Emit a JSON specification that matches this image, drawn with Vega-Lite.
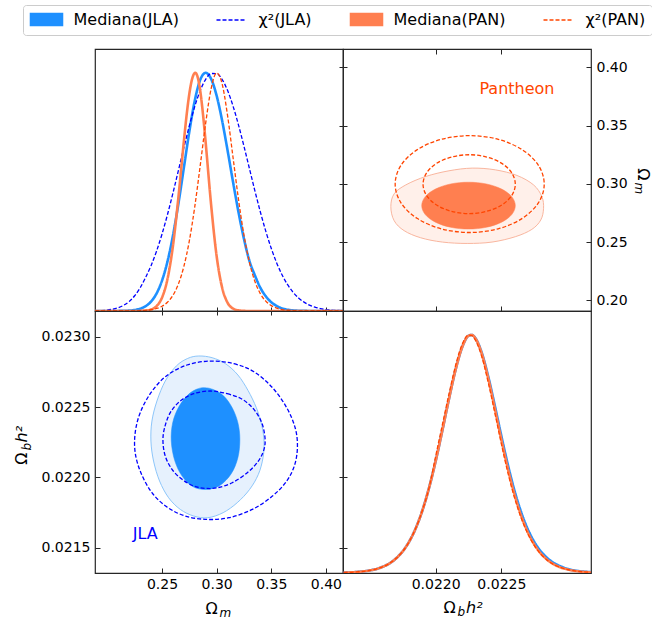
{
"$schema": "https://vega.github.io/schema/vega-lite/v6.json",
"padding": {"left": 13, "top": 4, "right": 0, "bottom": 0},
"autosize": {"type": "pad"},
"background": "white",
"columns": 2,
"spacing": 0,
"bounds": "flush",
"datasets": {
"om": [
{"s":"Mediana(JLA)","x":0.1887,"p":0},{"s":"Mediana(JLA)","x":0.2,"p":0},{"s":"Mediana(JLA)","x":0.205,"p":0.0001},{"s":"Mediana(JLA)","x":0.21,"p":0.0003},{"s":"Mediana(JLA)","x":0.215,"p":0.0007},{"s":"Mediana(JLA)","x":0.22,"p":0.0018},{"s":"Mediana(JLA)","x":0.225,"p":0.0042},{"s":"Mediana(JLA)","x":0.23,"p":0.0095},{"s":"Mediana(JLA)","x":0.235,"p":0.0201},{"s":"Mediana(JLA)","x":0.24,"p":0.0396},{"s":"Mediana(JLA)","x":0.245,"p":0.0733},{"s":"Mediana(JLA)","x":0.25,"p":0.1272},{"s":"Mediana(JLA)","x":0.255,"p":0.2068},{"s":"Mediana(JLA)","x":0.26,"p":0.3148},{"s":"Mediana(JLA)","x":0.265,"p":0.4493},{"s":"Mediana(JLA)","x":0.27,"p":0.6005},{"s":"Mediana(JLA)","x":0.275,"p":0.752},{"s":"Mediana(JLA)","x":0.28,"p":0.8825},{"s":"Mediana(JLA)","x":0.285,"p":0.9704},{"s":"Mediana(JLA)","x":0.29,"p":1.0},{"s":"Mediana(JLA)","x":0.295,"p":0.9743},{"s":"Mediana(JLA)","x":0.3,"p":0.9048},{"s":"Mediana(JLA)","x":0.305,"p":0.8007},{"s":"Mediana(JLA)","x":0.31,"p":0.6754},{"s":"Mediana(JLA)","x":0.315,"p":0.543},{"s":"Mediana(JLA)","x":0.32,"p":0.416},{"s":"Mediana(JLA)","x":0.325,"p":0.3036},{"s":"Mediana(JLA)","x":0.33,"p":0.2114},{"s":"Mediana(JLA)","x":0.335,"p":0.15},{"s":"Mediana(JLA)","x":0.34,"p":0.098},{"s":"Mediana(JLA)","x":0.345,"p":0.062},{"s":"Mediana(JLA)","x":0.35,"p":0.037},{"s":"Mediana(JLA)","x":0.355,"p":0.021},{"s":"Mediana(JLA)","x":0.36,"p":0.011},{"s":"Mediana(JLA)","x":0.365,"p":0.0055},{"s":"Mediana(JLA)","x":0.37,"p":0.0026},{"s":"Mediana(JLA)","x":0.375,"p":0.0012},{"s":"Mediana(JLA)","x":0.38,"p":0.0005},{"s":"Mediana(JLA)","x":0.385,"p":0.0002},{"s":"Mediana(JLA)","x":0.39,"p":0},{"s":"Mediana(JLA)","x":0.4157,"p":0},
{"s":"χ²(JLA)","x":0.1887,"p":0.0004},{"s":"χ²(JLA)","x":0.19,"p":0.001},{"s":"χ²(JLA)","x":0.195,"p":0.002},{"s":"χ²(JLA)","x":0.2,"p":0.004},{"s":"χ²(JLA)","x":0.205,"p":0.008},{"s":"χ²(JLA)","x":0.21,"p":0.014},{"s":"χ²(JLA)","x":0.215,"p":0.024},{"s":"χ²(JLA)","x":0.22,"p":0.04},{"s":"χ²(JLA)","x":0.225,"p":0.064},{"s":"χ²(JLA)","x":0.23,"p":0.097},{"s":"χ²(JLA)","x":0.235,"p":0.1406},{"s":"χ²(JLA)","x":0.24,"p":0.1901},{"s":"χ²(JLA)","x":0.245,"p":0.2508},{"s":"χ²(JLA)","x":0.25,"p":0.3223},{"s":"χ²(JLA)","x":0.255,"p":0.4042},{"s":"χ²(JLA)","x":0.26,"p":0.4943},{"s":"χ²(JLA)","x":0.265,"p":0.5892},{"s":"χ²(JLA)","x":0.27,"p":0.6849},{"s":"χ²(JLA)","x":0.275,"p":0.7766},{"s":"χ²(JLA)","x":0.28,"p":0.8586},{"s":"χ²(JLA)","x":0.285,"p":0.9254},{"s":"χ²(JLA)","x":0.29,"p":0.9728},{"s":"χ²(JLA)","x":0.295,"p":0.9971},{"s":"χ²(JLA)","x":0.3,"p":0.9967},{"s":"χ²(JLA)","x":0.305,"p":0.9725},{"s":"χ²(JLA)","x":0.31,"p":0.9263},{"s":"χ²(JLA)","x":0.315,"p":0.8612},{"s":"χ²(JLA)","x":0.32,"p":0.7817},{"s":"χ²(JLA)","x":0.325,"p":0.6926},{"s":"χ²(JLA)","x":0.33,"p":0.599},{"s":"χ²(JLA)","x":0.335,"p":0.5057},{"s":"χ²(JLA)","x":0.34,"p":0.4168},{"s":"χ²(JLA)","x":0.345,"p":0.3353},{"s":"χ²(JLA)","x":0.35,"p":0.2634},{"s":"χ²(JLA)","x":0.355,"p":0.2019},{"s":"χ²(JLA)","x":0.36,"p":0.151},{"s":"χ²(JLA)","x":0.365,"p":0.1104},{"s":"χ²(JLA)","x":0.37,"p":0.0787},{"s":"χ²(JLA)","x":0.375,"p":0.0548},{"s":"χ²(JLA)","x":0.38,"p":0.0373},{"s":"χ²(JLA)","x":0.385,"p":0.0247},{"s":"χ²(JLA)","x":0.39,"p":0.016},{"s":"χ²(JLA)","x":0.395,"p":0.0101},{"s":"χ²(JLA)","x":0.4,"p":0.0062},{"s":"χ²(JLA)","x":0.405,"p":0.0038},{"s":"χ²(JLA)","x":0.41,"p":0.0022},{"s":"χ²(JLA)","x":0.4157,"p":0.0012},
{"s":"Mediana(PAN)","x":0.1887,"p":0},{"s":"Mediana(PAN)","x":0.22,"p":0},{"s":"Mediana(PAN)","x":0.225,"p":0.0001},{"s":"Mediana(PAN)","x":0.23,"p":0.0004},{"s":"Mediana(PAN)","x":0.235,"p":0.0016},{"s":"Mediana(PAN)","x":0.24,"p":0.0062},{"s":"Mediana(PAN)","x":0.245,"p":0.0201},{"s":"Mediana(PAN)","x":0.25,"p":0.0559},{"s":"Mediana(PAN)","x":0.255,"p":0.1332},{"s":"Mediana(PAN)","x":0.26,"p":0.2718},{"s":"Mediana(PAN)","x":0.265,"p":0.4749},{"s":"Mediana(PAN)","x":0.27,"p":0.7104},{"s":"Mediana(PAN)","x":0.2725,"p":0.82},{"s":"Mediana(PAN)","x":0.275,"p":0.9105},{"s":"Mediana(PAN)","x":0.2775,"p":0.9725},{"s":"Mediana(PAN)","x":0.2805,"p":1.0},{"s":"Mediana(PAN)","x":0.2825,"p":0.9847},{"s":"Mediana(PAN)","x":0.285,"p":0.925},{"s":"Mediana(PAN)","x":0.2875,"p":0.828},{"s":"Mediana(PAN)","x":0.29,"p":0.7068},{"s":"Mediana(PAN)","x":0.295,"p":0.4453},{"s":"Mediana(PAN)","x":0.3,"p":0.2315},{"s":"Mediana(PAN)","x":0.305,"p":0.0994},{"s":"Mediana(PAN)","x":0.31,"p":0.0351},{"s":"Mediana(PAN)","x":0.315,"p":0.0103},{"s":"Mediana(PAN)","x":0.32,"p":0.0025},{"s":"Mediana(PAN)","x":0.325,"p":0.0005},{"s":"Mediana(PAN)","x":0.33,"p":0.0001},{"s":"Mediana(PAN)","x":0.335,"p":0},{"s":"Mediana(PAN)","x":0.4157,"p":0},
{"s":"χ²(PAN)","x":0.1887,"p":0},{"s":"χ²(PAN)","x":0.21,"p":0},{"s":"χ²(PAN)","x":0.215,"p":0.0001},{"s":"χ²(PAN)","x":0.22,"p":0.0003},{"s":"χ²(PAN)","x":0.225,"p":0.0007},{"s":"χ²(PAN)","x":0.23,"p":0.0014},{"s":"χ²(PAN)","x":0.235,"p":0.0028},{"s":"χ²(PAN)","x":0.24,"p":0.0055},{"s":"χ²(PAN)","x":0.245,"p":0.0105},{"s":"χ²(PAN)","x":0.25,"p":0.0199},{"s":"χ²(PAN)","x":0.255,"p":0.0366},{"s":"χ²(PAN)","x":0.26,"p":0.0654},{"s":"χ²(PAN)","x":0.265,"p":0.1127},{"s":"χ²(PAN)","x":0.27,"p":0.1864},{"s":"χ²(PAN)","x":0.275,"p":0.2935},{"s":"χ²(PAN)","x":0.28,"p":0.4374},{"s":"χ²(PAN)","x":0.285,"p":0.61},{"s":"χ²(PAN)","x":0.29,"p":0.7887},{"s":"χ²(PAN)","x":0.295,"p":0.934},{"s":"χ²(PAN)","x":0.3,"p":0.9994},{"s":"χ²(PAN)","x":0.305,"p":0.955},{"s":"χ²(PAN)","x":0.31,"p":0.822},{"s":"χ²(PAN)","x":0.315,"p":0.6464},{"s":"χ²(PAN)","x":0.32,"p":0.47},{"s":"χ²(PAN)","x":0.325,"p":0.3195},{"s":"χ²(PAN)","x":0.33,"p":0.205},{"s":"χ²(PAN)","x":0.335,"p":0.125},{"s":"χ²(PAN)","x":0.34,"p":0.0732},{"s":"χ²(PAN)","x":0.345,"p":0.0412},{"s":"χ²(PAN)","x":0.35,"p":0.0225},{"s":"χ²(PAN)","x":0.355,"p":0.012},{"s":"χ²(PAN)","x":0.36,"p":0.0062},{"s":"χ²(PAN)","x":0.365,"p":0.0032},{"s":"χ²(PAN)","x":0.37,"p":0.0016},{"s":"χ²(PAN)","x":0.375,"p":0.0008},{"s":"χ²(PAN)","x":0.38,"p":0.0004},{"s":"χ²(PAN)","x":0.385,"p":0.0002},{"s":"χ²(PAN)","x":0.39,"p":0},{"s":"χ²(PAN)","x":0.4157,"p":0}
],
"ob": [
{"s":"Mediana(JLA)","x":0.0213,"p":0.0017},{"s":"Mediana(JLA)","x":0.02135,"p":0.0027},{"s":"Mediana(JLA)","x":0.0214,"p":0.0043},{"s":"Mediana(JLA)","x":0.02145,"p":0.0069},{"s":"Mediana(JLA)","x":0.0215,"p":0.011},{"s":"Mediana(JLA)","x":0.02155,"p":0.0172},{"s":"Mediana(JLA)","x":0.0216,"p":0.0267},{"s":"Mediana(JLA)","x":0.02165,"p":0.0408},{"s":"Mediana(JLA)","x":0.0217,"p":0.0616},{"s":"Mediana(JLA)","x":0.02175,"p":0.0915},{"s":"Mediana(JLA)","x":0.0218,"p":0.1333},{"s":"Mediana(JLA)","x":0.02185,"p":0.19},{"s":"Mediana(JLA)","x":0.0219,"p":0.2644},{"s":"Mediana(JLA)","x":0.02195,"p":0.358},{"s":"Mediana(JLA)","x":0.022,"p":0.47},{"s":"Mediana(JLA)","x":0.02205,"p":0.5962},{"s":"Mediana(JLA)","x":0.0221,"p":0.7275},{"s":"Mediana(JLA)","x":0.02215,"p":0.8498},{"s":"Mediana(JLA)","x":0.0222,"p":0.9455},{"s":"Mediana(JLA)","x":0.02225,"p":0.9959},{"s":"Mediana(JLA)","x":0.022275,"p":0.9995},{"s":"Mediana(JLA)","x":0.0223,"p":0.988},{"s":"Mediana(JLA)","x":0.02235,"p":0.926},{"s":"Mediana(JLA)","x":0.0224,"p":0.825},{"s":"Mediana(JLA)","x":0.02245,"p":0.703},{"s":"Mediana(JLA)","x":0.0225,"p":0.575},{"s":"Mediana(JLA)","x":0.02255,"p":0.453},{"s":"Mediana(JLA)","x":0.0226,"p":0.345},{"s":"Mediana(JLA)","x":0.02265,"p":0.256},{"s":"Mediana(JLA)","x":0.0227,"p":0.185},{"s":"Mediana(JLA)","x":0.02275,"p":0.131},{"s":"Mediana(JLA)","x":0.0228,"p":0.091},{"s":"Mediana(JLA)","x":0.02285,"p":0.062},{"s":"Mediana(JLA)","x":0.0229,"p":0.042},{"s":"Mediana(JLA)","x":0.02295,"p":0.028},{"s":"Mediana(JLA)","x":0.023,"p":0.018},{"s":"Mediana(JLA)","x":0.02305,"p":0.0115},{"s":"Mediana(JLA)","x":0.0231,"p":0.0074},{"s":"Mediana(JLA)","x":0.02315,"p":0.0047},{"s":"Mediana(JLA)","x":0.02318,"p":0.0037},
{"s":"χ²(JLA)","x":0.0213,"p":0.0017},{"s":"χ²(JLA)","x":0.02135,"p":0.0027},{"s":"χ²(JLA)","x":0.0214,"p":0.0043},{"s":"χ²(JLA)","x":0.02145,"p":0.0069},{"s":"χ²(JLA)","x":0.0215,"p":0.011},{"s":"χ²(JLA)","x":0.02155,"p":0.0172},{"s":"χ²(JLA)","x":0.0216,"p":0.0267},{"s":"χ²(JLA)","x":0.02165,"p":0.0408},{"s":"χ²(JLA)","x":0.0217,"p":0.0616},{"s":"χ²(JLA)","x":0.02175,"p":0.0915},{"s":"χ²(JLA)","x":0.0218,"p":0.1333},{"s":"χ²(JLA)","x":0.02185,"p":0.19},{"s":"χ²(JLA)","x":0.0219,"p":0.2644},{"s":"χ²(JLA)","x":0.02195,"p":0.358},{"s":"χ²(JLA)","x":0.022,"p":0.47},{"s":"χ²(JLA)","x":0.02205,"p":0.5962},{"s":"χ²(JLA)","x":0.0221,"p":0.7275},{"s":"χ²(JLA)","x":0.02215,"p":0.8498},{"s":"χ²(JLA)","x":0.0222,"p":0.9455},{"s":"χ²(JLA)","x":0.02225,"p":0.9959},{"s":"χ²(JLA)","x":0.022275,"p":0.9995},{"s":"χ²(JLA)","x":0.0223,"p":0.9873},{"s":"χ²(JLA)","x":0.02235,"p":0.9225},{"s":"χ²(JLA)","x":0.0224,"p":0.8175},{"s":"χ²(JLA)","x":0.02245,"p":0.691},{"s":"χ²(JLA)","x":0.0225,"p":0.5599},{"s":"χ²(JLA)","x":0.02255,"p":0.4369},{"s":"χ²(JLA)","x":0.0226,"p":0.3298},{"s":"χ²(JLA)","x":0.02265,"p":0.2416},{"s":"χ²(JLA)","x":0.0227,"p":0.1724},{"s":"χ²(JLA)","x":0.02275,"p":0.1202},{"s":"χ²(JLA)","x":0.0228,"p":0.0821},{"s":"χ²(JLA)","x":0.02285,"p":0.055},{"s":"χ²(JLA)","x":0.0229,"p":0.0363},{"s":"χ²(JLA)","x":0.02295,"p":0.0236},{"s":"χ²(JLA)","x":0.023,"p":0.0152},{"s":"χ²(JLA)","x":0.02305,"p":0.0096},{"s":"χ²(JLA)","x":0.0231,"p":0.0061},{"s":"χ²(JLA)","x":0.02315,"p":0.0038},{"s":"χ²(JLA)","x":0.02318,"p":0.003},
{"s":"Mediana(PAN)","x":0.0213,"p":0.0017},{"s":"Mediana(PAN)","x":0.02135,"p":0.0027},{"s":"Mediana(PAN)","x":0.0214,"p":0.0043},{"s":"Mediana(PAN)","x":0.02145,"p":0.0069},{"s":"Mediana(PAN)","x":0.0215,"p":0.011},{"s":"Mediana(PAN)","x":0.02155,"p":0.0172},{"s":"Mediana(PAN)","x":0.0216,"p":0.0267},{"s":"Mediana(PAN)","x":0.02165,"p":0.0408},{"s":"Mediana(PAN)","x":0.0217,"p":0.0616},{"s":"Mediana(PAN)","x":0.02175,"p":0.0915},{"s":"Mediana(PAN)","x":0.0218,"p":0.1333},{"s":"Mediana(PAN)","x":0.02185,"p":0.19},{"s":"Mediana(PAN)","x":0.0219,"p":0.2644},{"s":"Mediana(PAN)","x":0.02195,"p":0.358},{"s":"Mediana(PAN)","x":0.022,"p":0.47},{"s":"Mediana(PAN)","x":0.02205,"p":0.5962},{"s":"Mediana(PAN)","x":0.0221,"p":0.7275},{"s":"Mediana(PAN)","x":0.02215,"p":0.8498},{"s":"Mediana(PAN)","x":0.0222,"p":0.9455},{"s":"Mediana(PAN)","x":0.02225,"p":0.9959},{"s":"Mediana(PAN)","x":0.022275,"p":0.9995},{"s":"Mediana(PAN)","x":0.0223,"p":0.9873},{"s":"Mediana(PAN)","x":0.02235,"p":0.9225},{"s":"Mediana(PAN)","x":0.0224,"p":0.8175},{"s":"Mediana(PAN)","x":0.02245,"p":0.691},{"s":"Mediana(PAN)","x":0.0225,"p":0.5599},{"s":"Mediana(PAN)","x":0.02255,"p":0.4369},{"s":"Mediana(PAN)","x":0.0226,"p":0.3298},{"s":"Mediana(PAN)","x":0.02265,"p":0.2416},{"s":"Mediana(PAN)","x":0.0227,"p":0.1724},{"s":"Mediana(PAN)","x":0.02275,"p":0.1202},{"s":"Mediana(PAN)","x":0.0228,"p":0.0821},{"s":"Mediana(PAN)","x":0.02285,"p":0.055},{"s":"Mediana(PAN)","x":0.0229,"p":0.0363},{"s":"Mediana(PAN)","x":0.02295,"p":0.0236},{"s":"Mediana(PAN)","x":0.023,"p":0.0152},{"s":"Mediana(PAN)","x":0.02305,"p":0.0096},{"s":"Mediana(PAN)","x":0.0231,"p":0.0061},{"s":"Mediana(PAN)","x":0.02315,"p":0.0038},{"s":"Mediana(PAN)","x":0.02318,"p":0.003},
{"s":"χ²(PAN)","x":0.0213,"p":0.0017},{"s":"χ²(PAN)","x":0.02135,"p":0.0027},{"s":"χ²(PAN)","x":0.0214,"p":0.0043},{"s":"χ²(PAN)","x":0.02145,"p":0.0069},{"s":"χ²(PAN)","x":0.0215,"p":0.011},{"s":"χ²(PAN)","x":0.02155,"p":0.0172},{"s":"χ²(PAN)","x":0.0216,"p":0.0267},{"s":"χ²(PAN)","x":0.02165,"p":0.0408},{"s":"χ²(PAN)","x":0.0217,"p":0.0616},{"s":"χ²(PAN)","x":0.02175,"p":0.0915},{"s":"χ²(PAN)","x":0.0218,"p":0.1333},{"s":"χ²(PAN)","x":0.02185,"p":0.19},{"s":"χ²(PAN)","x":0.0219,"p":0.2644},{"s":"χ²(PAN)","x":0.02195,"p":0.358},{"s":"χ²(PAN)","x":0.022,"p":0.49},{"s":"χ²(PAN)","x":0.02205,"p":0.62},{"s":"χ²(PAN)","x":0.0221,"p":0.748},{"s":"χ²(PAN)","x":0.02215,"p":0.868},{"s":"χ²(PAN)","x":0.0222,"p":0.958},{"s":"χ²(PAN)","x":0.02225,"p":0.999},{"s":"χ²(PAN)","x":0.022275,"p":0.997},{"s":"χ²(PAN)","x":0.0223,"p":0.98},{"s":"χ²(PAN)","x":0.02235,"p":0.91},{"s":"χ²(PAN)","x":0.0224,"p":0.8},{"s":"χ²(PAN)","x":0.02245,"p":0.673},{"s":"χ²(PAN)","x":0.0225,"p":0.542},{"s":"χ²(PAN)","x":0.02255,"p":0.42},{"s":"χ²(PAN)","x":0.0226,"p":0.316},{"s":"χ²(PAN)","x":0.02265,"p":0.232},{"s":"χ²(PAN)","x":0.0227,"p":0.166},{"s":"χ²(PAN)","x":0.02275,"p":0.116},{"s":"χ²(PAN)","x":0.0228,"p":0.079},{"s":"χ²(PAN)","x":0.02285,"p":0.053},{"s":"χ²(PAN)","x":0.0229,"p":0.035},{"s":"χ²(PAN)","x":0.02295,"p":0.0236},{"s":"χ²(PAN)","x":0.023,"p":0.0152},{"s":"χ²(PAN)","x":0.02305,"p":0.0096},{"s":"χ²(PAN)","x":0.0231,"p":0.0061},{"s":"χ²(PAN)","x":0.02315,"p":0.0038},{"s":"χ²(PAN)","x":0.02318,"p":0.003}
],
"jla": [
{"c":"o","i":0,"x":0.2837,"y":0.022863},{"c":"o","i":1,"x":0.2959,"y":0.022851},{"c":"o","i":2,"x":0.3082,"y":0.022808},{"c":"o","i":3,"x":0.3195,"y":0.022728},{"c":"o","i":4,"x":0.3287,"y":0.022619},{"c":"o","i":5,"x":0.3364,"y":0.022495},{"c":"o","i":6,"x":0.3413,"y":0.022372},{"c":"o","i":7,"x":0.3434,"y":0.022258},{"c":"o","i":8,"x":0.3425,"y":0.02214},{"c":"o","i":9,"x":0.3382,"y":0.022021},{"c":"o","i":10,"x":0.3302,"y":0.021914},{"c":"o","i":11,"x":0.3189,"y":0.02182},{"c":"o","i":12,"x":0.306,"y":0.021749},{"c":"o","i":13,"x":0.2919,"y":0.021713},{"c":"o","i":14,"x":0.2791,"y":0.021725},{"c":"o","i":15,"x":0.2668,"y":0.021772},{"c":"o","i":16,"x":0.2561,"y":0.021855},{"c":"o","i":17,"x":0.2478,"y":0.021974},{"c":"o","i":18,"x":0.2423,"y":0.022116},{"c":"o","i":19,"x":0.2399,"y":0.022258},{"c":"o","i":20,"x":0.2408,"y":0.0224},{"c":"o","i":21,"x":0.2454,"y":0.022543},{"c":"o","i":22,"x":0.253,"y":0.022685},{"c":"o","i":23,"x":0.2631,"y":0.022792},{"c":"o","i":24,"x":0.2736,"y":0.022846},
{"c":"i","i":0,"x":0.2889,"y":0.022638},{"c":"i","i":1,"x":0.2975,"y":0.022623},{"c":"i","i":2,"x":0.3066,"y":0.022578},{"c":"i","i":3,"x":0.3143,"y":0.022495},{"c":"i","i":4,"x":0.3195,"y":0.022389},{"c":"i","i":5,"x":0.3213,"y":0.02227},{"c":"i","i":6,"x":0.3195,"y":0.02214},{"c":"i","i":7,"x":0.3134,"y":0.022026},{"c":"i","i":8,"x":0.303,"y":0.021943},{"c":"i","i":9,"x":0.2907,"y":0.021914},{"c":"i","i":10,"x":0.2785,"y":0.021933},{"c":"i","i":11,"x":0.2684,"y":0.022009},{"c":"i","i":12,"x":0.2616,"y":0.022121},{"c":"i","i":13,"x":0.2585,"y":0.022258},{"c":"i","i":14,"x":0.2598,"y":0.022389},{"c":"i","i":15,"x":0.2653,"y":0.0225},{"c":"i","i":16,"x":0.2736,"y":0.022585},{"c":"i","i":17,"x":0.2815,"y":0.022626},
{"c":"di","i":0,"x":0.2944,"y":0.022614},{"c":"di","i":1,"x":0.3097,"y":0.022595},{"c":"di","i":2,"x":0.3235,"y":0.022555},{"c":"di","i":3,"x":0.3342,"y":0.022483},{"c":"di","i":4,"x":0.3413,"y":0.022389},{"c":"di","i":5,"x":0.3443,"y":0.022282},{"c":"di","i":6,"x":0.3434,"y":0.022199},{"c":"di","i":7,"x":0.3382,"y":0.022116},{"c":"di","i":8,"x":0.3281,"y":0.022033},{"c":"di","i":9,"x":0.3143,"y":0.021962},{"c":"di","i":10,"x":0.3005,"y":0.021926},{"c":"di","i":11,"x":0.2898,"y":0.021922},{"c":"di","i":12,"x":0.2791,"y":0.021938},{"c":"di","i":13,"x":0.2684,"y":0.021986},{"c":"di","i":14,"x":0.2592,"y":0.022057},{"c":"di","i":15,"x":0.253,"y":0.022152},{"c":"di","i":16,"x":0.2509,"y":0.022258},{"c":"di","i":17,"x":0.2524,"y":0.022353},{"c":"di","i":18,"x":0.2576,"y":0.02246},{"c":"di","i":19,"x":0.2668,"y":0.022543},{"c":"di","i":20,"x":0.2791,"y":0.022595},
{"c":"do","i":0,"x":0.2944,"y":0.022827},{"c":"do","i":1,"x":0.3158,"y":0.022808},{"c":"do","i":2,"x":0.3342,"y":0.022751},{"c":"do","i":3,"x":0.3511,"y":0.022638},{"c":"do","i":4,"x":0.3642,"y":0.022495},{"c":"do","i":5,"x":0.3719,"y":0.022353},{"c":"do","i":6,"x":0.374,"y":0.022223},{"c":"do","i":7,"x":0.3716,"y":0.022092},{"c":"do","i":8,"x":0.3642,"y":0.021974},{"c":"do","i":9,"x":0.3511,"y":0.021867},{"c":"do","i":10,"x":0.3327,"y":0.021772},{"c":"do","i":11,"x":0.3112,"y":0.021713},{"c":"do","i":12,"x":0.2913,"y":0.021701},{"c":"do","i":13,"x":0.2714,"y":0.021725},{"c":"do","i":14,"x":0.2546,"y":0.021789},{"c":"do","i":15,"x":0.2408,"y":0.021891},{"c":"do","i":16,"x":0.2307,"y":0.022033},{"c":"do","i":17,"x":0.2255,"y":0.022175},{"c":"do","i":18,"x":0.2255,"y":0.022318},{"c":"do","i":19,"x":0.2301,"y":0.02246},{"c":"do","i":20,"x":0.2399,"y":0.022602},{"c":"do","i":21,"x":0.254,"y":0.022721},{"c":"do","i":22,"x":0.2729,"y":0.022799}
],
"pan": [
{"c":"o","i":0,"x":0.021659,"y":0.2804},{"c":"o","i":1,"x":0.021684,"y":0.2914},{"c":"o","i":2,"x":0.021773,"y":0.2991},{"c":"o","i":3,"x":0.021924,"y":0.3063},{"c":"o","i":4,"x":0.022101,"y":0.3112},{"c":"o","i":5,"x":0.022278,"y":0.3135},{"c":"o","i":6,"x":0.022455,"y":0.312},{"c":"o","i":7,"x":0.022619,"y":0.3072},{"c":"o","i":8,"x":0.022745,"y":0.2991},{"c":"o","i":9,"x":0.022808,"y":0.2891},{"c":"o","i":10,"x":0.022821,"y":0.279},{"c":"o","i":11,"x":0.0228,"y":0.269},{"c":"o","i":12,"x":0.022732,"y":0.2609},{"c":"o","i":13,"x":0.022606,"y":0.2546},{"c":"o","i":14,"x":0.022429,"y":0.25},{"c":"o","i":15,"x":0.02224,"y":0.2488},{"c":"o","i":16,"x":0.022051,"y":0.25},{"c":"o","i":17,"x":0.021886,"y":0.2537},{"c":"o","i":18,"x":0.02176,"y":0.2598},{"c":"o","i":19,"x":0.021684,"y":0.2684},
{"c":"i","i":0,"x":0.022606,"y":0.2813},{"c":"i","i":1,"x":0.022579,"y":0.289},{"c":"i","i":2,"x":0.022502,"y":0.2955},{"c":"i","i":3,"x":0.022386,"y":0.2999},{"c":"i","i":4,"x":0.02225,"y":0.3014},{"c":"i","i":5,"x":0.022114,"y":0.2999},{"c":"i","i":6,"x":0.021998,"y":0.2955},{"c":"i","i":7,"x":0.021921,"y":0.289},{"c":"i","i":8,"x":0.021894,"y":0.2813},{"c":"i","i":9,"x":0.021921,"y":0.2736},{"c":"i","i":10,"x":0.021998,"y":0.2671},{"c":"i","i":11,"x":0.022114,"y":0.2627},{"c":"i","i":12,"x":0.02225,"y":0.2612},{"c":"i","i":13,"x":0.022386,"y":0.2627},{"c":"i","i":14,"x":0.022502,"y":0.2671},{"c":"i","i":15,"x":0.022579,"y":0.2736},
{"c":"di","i":0,"x":0.022606,"y":0.2997},{"c":"di","i":1,"x":0.022579,"y":0.3094},{"c":"di","i":2,"x":0.022503,"y":0.3176},{"c":"di","i":3,"x":0.022389,"y":0.323},{"c":"di","i":4,"x":0.022255,"y":0.325},{"c":"di","i":5,"x":0.022121,"y":0.323},{"c":"di","i":6,"x":0.022007,"y":0.3176},{"c":"di","i":7,"x":0.021931,"y":0.3094},{"c":"di","i":8,"x":0.021904,"y":0.2997},{"c":"di","i":9,"x":0.021931,"y":0.29},{"c":"di","i":10,"x":0.022007,"y":0.2818},{"c":"di","i":11,"x":0.022121,"y":0.2764},{"c":"di","i":12,"x":0.022255,"y":0.2744},{"c":"di","i":13,"x":0.022389,"y":0.2764},{"c":"di","i":14,"x":0.022503,"y":0.2818},{"c":"di","i":15,"x":0.022579,"y":0.29},
{"c":"do","i":0,"x":0.022826,"y":0.2998},{"c":"do","i":1,"x":0.022783,"y":0.3157},{"c":"do","i":2,"x":0.02266,"y":0.3292},{"c":"do","i":3,"x":0.022476,"y":0.3382},{"c":"do","i":4,"x":0.022259,"y":0.3414},{"c":"do","i":5,"x":0.022042,"y":0.3382},{"c":"do","i":6,"x":0.021858,"y":0.3292},{"c":"do","i":7,"x":0.021735,"y":0.3157},{"c":"do","i":8,"x":0.021692,"y":0.2998},{"c":"do","i":9,"x":0.021735,"y":0.2839},{"c":"do","i":10,"x":0.021858,"y":0.2704},{"c":"do","i":11,"x":0.022042,"y":0.2614},{"c":"do","i":12,"x":0.022259,"y":0.2582},{"c":"do","i":13,"x":0.022476,"y":0.2614},{"c":"do","i":14,"x":0.02266,"y":0.2704},{"c":"do","i":15,"x":0.022783,"y":0.2839}
]
},
"concat": [
{
"width": 248, "height": 262,
"data": {"name": "om"},
"encoding": {
"x": {"field": "x", "type": "quantitative", "scale": {"domain": [0.1887, 0.4157], "nice": false, "zero": false}, "axis": {"orient": "bottom", "values": [0.25, 0.3, 0.35, 0.4], "labels": false, "title": null, "tickSize": 8, "offset": -4, "domain": false}},
"y": {"field": "p", "type": "quantitative", "scale": {"domain": [0, 1.1], "nice": false, "zero": false}, "axis": null},
"color": {"field": "s", "type": "nominal", "scale": {"domain": ["Mediana(JLA)", "χ²(JLA)", "Mediana(PAN)", "χ²(PAN)"], "range": ["#1e90ff", "#0000ff", "#ff7f50", "#ff4500"]},
"legend": {"orient": "none", "legendX": -72, "legendY": -44, "direction": "horizontal", "title": null,
"encode": {"symbols": {"update": {
"shape": {"signal": "indexof(datum.value,'Mediana')===0 ? 'M-2.67,-1H2.67V1H-2.67Z' : 'M-2.5,0H2.5'"},
"fill": {"signal": "datum.value==='Mediana(JLA)' ? '#1e90ff' : (datum.value==='Mediana(PAN)' ? '#ff7f50' : 'transparent')"}}}}}},
"strokeDash": {"field": "s", "type": "nominal", "scale": {"domain": ["Mediana(JLA)", "χ²(JLA)", "Mediana(PAN)", "χ²(PAN)"], "range": [[1, 0], [4, 2], [1, 0], [4, 2]]},
"legend": {"orient": "none", "legendX": -72, "legendY": -44, "direction": "horizontal", "title": null,
"encode": {"symbols": {"update": {
"shape": {"signal": "indexof(datum.value,'Mediana')===0 ? 'M-2.67,-1H2.67V1H-2.67Z' : 'M-2.5,0H2.5'"},
"fill": {"signal": "datum.value==='Mediana(JLA)' ? '#1e90ff' : (datum.value==='Mediana(PAN)' ? '#ff7f50' : 'transparent')"}}}}}}
},
"layer": [
{"transform": [{"filter": "datum.s==='Mediana(JLA)'"}], "mark": {"type": "line", "interpolate": "monotone", "strokeWidth": 2.6, "clip": true}},
{"transform": [{"filter": "datum.s==='χ²(JLA)'"}], "mark": {"type": "line", "interpolate": "monotone", "strokeWidth": 1.3, "clip": true}},
{"transform": [{"filter": "datum.s==='Mediana(PAN)'"}], "mark": {"type": "line", "interpolate": "monotone", "strokeWidth": 2.6, "clip": true}},
{"transform": [{"filter": "datum.s==='χ²(PAN)'"}], "mark": {"type": "line", "interpolate": "monotone", "strokeWidth": 1.3, "clip": true}}
]
},
{
"width": 248, "height": 262,
"data": {"name": "pan"},
"layer": [
{"transform": [{"filter": "datum.c==='o'"}],
"mark": {"type": "line", "interpolate": "cardinal-closed", "fill": "#fff0ea", "stroke": "#f9b69f", "strokeWidth": 1, "clip": true},
"encoding": {
"x": {"field": "x", "type": "quantitative", "scale": {"domain": [0.021295, 0.023182], "nice": false, "zero": false}, "axis": {"orient": "bottom", "values": [0.022, 0.0225], "labels": false, "title": null, "tickSize": -5, "domain": false}},
"y": {"field": "y", "type": "quantitative", "scale": {"domain": [0.1908, 0.4158], "nice": false, "zero": false}, "axis": {"orient": "right", "values": [0.2, 0.25, 0.3, 0.35, 0.4], "format": ".2f", "tickSize": -5, "labelPadding": 10, "domain": false, "title": "Ω", "titleAngle": 90, "titleAlign": "left", "titleBaseline": "alphabetic", "titleX": 46, "titleY": 118.7}},
"order": {"field": "i", "type": "quantitative"}}},
{"transform": [{"filter": "datum.c==='i'"}],
"mark": {"type": "line", "interpolate": "cardinal-closed", "fill": "#ff7f50", "stroke": "#ff7f50", "strokeWidth": 0.5, "clip": true},
"encoding": {
"x": {"field": "x", "type": "quantitative", "scale": {"domain": [0.021295, 0.023182], "nice": false, "zero": false}, "axis": {"orient": "top", "values": [0.022, 0.0225], "labels": false, "title": null, "tickSize": -5, "domain": false}},
"y": {"field": "y", "type": "quantitative", "scale": {"domain": [0.1908, 0.4158], "nice": false, "zero": false}, "axis": {"orient": "right", "labels": false, "ticks": false, "domain": false, "title": "m", "titleFontSize": 12, "titleFontStyle": "italic", "titleAngle": 90, "titleAlign": "left", "titleBaseline": "alphabetic", "titleX": 43, "titleY": 133}},
"order": {"field": "i", "type": "quantitative"}}},
{"transform": [{"filter": "datum.c==='di'"}],
"mark": {"type": "line", "interpolate": "cardinal-closed", "stroke": "#ff4500", "strokeWidth": 1.3, "strokeDash": [4, 2], "clip": true},
"encoding": {
"x": {"field": "x", "type": "quantitative", "scale": {"domain": [0.021295, 0.023182], "nice": false, "zero": false}, "axis": null},
"y": {"field": "y", "type": "quantitative", "scale": {"domain": [0.1908, 0.4158], "nice": false, "zero": false}, "axis": {"orient": "left", "values": [0.2, 0.25, 0.3, 0.35, 0.4], "labels": false, "title": null, "tickSize": 8, "offset": -4, "domain": false}},
"order": {"field": "i", "type": "quantitative"}}},
{"transform": [{"filter": "datum.c==='do'"}],
"mark": {"type": "line", "interpolate": "cardinal-closed", "stroke": "#ff4500", "strokeWidth": 1.3, "strokeDash": [4, 2], "clip": true},
"encoding": {
"x": {"field": "x", "type": "quantitative", "scale": {"domain": [0.021295, 0.023182], "nice": false, "zero": false}, "axis": null},
"y": {"field": "y", "type": "quantitative", "scale": {"domain": [0.1908, 0.4158], "nice": false, "zero": false}, "axis": null},
"order": {"field": "i", "type": "quantitative"}}},
{"data": {"values": [{"x": 0.022333, "y": 0.37724, "t": "Pantheon"}]},
"mark": {"type": "text", "align": "left", "baseline": "alphabetic", "font": "DejaVu Sans", "fontSize": 16, "color": "#ff4500"},
"encoding": {
"x": {"field": "x", "type": "quantitative", "scale": {"domain": [0.021295, 0.023182], "nice": false, "zero": false}, "axis": null},
"y": {"field": "y", "type": "quantitative", "scale": {"domain": [0.1908, 0.4158], "nice": false, "zero": false}, "axis": null},
"text": {"field": "t", "type": "nominal"}}}
],
"resolve": {"axis": {"x": "independent", "y": "independent"}}
},
{
"width": 248, "height": 262,
"data": {"name": "jla"},
"layer": [
{"transform": [{"filter": "datum.c==='o'"}],
"mark": {"type": "line", "interpolate": "cardinal-closed", "fill": "#e6f1fd", "stroke": "#8dc6fa", "strokeWidth": 1, "clip": true},
"encoding": {
"x": {"field": "x", "type": "quantitative", "scale": {"domain": [0.1887, 0.4157], "nice": false, "zero": false}, "axis": {"orient": "bottom", "values": [0.25, 0.3, 0.35, 0.4], "format": ".2f", "tickSize": -5, "labelPadding": 9, "domain": false, "title": "Ω", "titleAlign": "left", "titleBaseline": "alphabetic", "titleX": 110, "titleY": 40}},
"y": {"field": "y", "type": "quantitative", "scale": {"domain": [0.02132, 0.023183], "nice": false, "zero": false}, "axis": {"orient": "left", "values": [0.0215, 0.022, 0.0225, 0.023], "format": ".4f", "tickSize": -5, "labelPadding": 10, "domain": false, "title": "Ω", "titleAngle": -90, "titleAlign": "left", "titleBaseline": "alphabetic", "titleX": -68.3, "titleY": 153.3}},
"order": {"field": "i", "type": "quantitative"}}},
{"transform": [{"filter": "datum.c==='i'"}],
"mark": {"type": "line", "interpolate": "cardinal-closed", "fill": "#1e90ff", "stroke": "#1e90ff", "strokeWidth": 0.5, "clip": true},
"encoding": {
"x": {"field": "x", "type": "quantitative", "scale": {"domain": [0.1887, 0.4157], "nice": false, "zero": false}, "axis": {"orient": "bottom", "labels": false, "ticks": false, "domain": false, "title": "m", "titleFontSize": 12, "titleFontStyle": "italic", "titleAlign": "left", "titleBaseline": "alphabetic", "titleX": 124, "titleY": 43}},
"y": {"field": "y", "type": "quantitative", "scale": {"domain": [0.02132, 0.023183], "nice": false, "zero": false}, "axis": {"orient": "left", "labels": false, "ticks": false, "domain": false, "title": "b", "titleFontSize": 12, "titleFontStyle": "italic", "titleAngle": -90, "titleAlign": "left", "titleBaseline": "alphabetic", "titleX": -65, "titleY": 139}},
"order": {"field": "i", "type": "quantitative"}}},
{"transform": [{"filter": "datum.c==='di'"}],
"mark": {"type": "line", "interpolate": "cardinal-closed", "stroke": "#0000ff", "strokeWidth": 1.3, "strokeDash": [4, 2], "clip": true},
"encoding": {
"x": {"field": "x", "type": "quantitative", "scale": {"domain": [0.1887, 0.4157], "nice": false, "zero": false}, "axis": null},
"y": {"field": "y", "type": "quantitative", "scale": {"domain": [0.02132, 0.023183], "nice": false, "zero": false}, "axis": {"orient": "left", "labels": false, "ticks": false, "domain": false, "title": "h²", "titleFontStyle": "italic", "titleAngle": -90, "titleAlign": "left", "titleBaseline": "alphabetic", "titleX": -68.3, "titleY": 131}},
"order": {"field": "i", "type": "quantitative"}}},
{"transform": [{"filter": "datum.c==='do'"}],
"mark": {"type": "line", "interpolate": "cardinal-closed", "stroke": "#0000ff", "strokeWidth": 1.3, "strokeDash": [4, 2], "clip": true},
"encoding": {
"x": {"field": "x", "type": "quantitative", "scale": {"domain": [0.1887, 0.4157], "nice": false, "zero": false}, "axis": null},
"y": {"field": "y", "type": "quantitative", "scale": {"domain": [0.02132, 0.023183], "nice": false, "zero": false}, "axis": {"orient": "right", "values": [0.0215, 0.022, 0.0225, 0.023], "labels": false, "title": null, "tickSize": 8, "offset": -4, "domain": false}},
"order": {"field": "i", "type": "quantitative"}}},
{"data": {"values": [{"x": 0.22335, "y": 0.021559, "t": "JLA"}]},
"mark": {"type": "text", "align": "left", "baseline": "alphabetic", "font": "DejaVu Sans", "fontSize": 16, "color": "#0000ff"},
"encoding": {
"x": {"field": "x", "type": "quantitative", "scale": {"domain": [0.1887, 0.4157], "nice": false, "zero": false}, "axis": null},
"y": {"field": "y", "type": "quantitative", "scale": {"domain": [0.02132, 0.023183], "nice": false, "zero": false}, "axis": null},
"text": {"field": "t", "type": "nominal"}}}
],
"resolve": {"axis": {"x": "independent", "y": "independent"}}
},
{
"width": 248, "height": 262,
"data": {"name": "ob"},
"encoding": {
"y": {"field": "p", "type": "quantitative", "scale": {"domain": [0, 1.1], "nice": false, "zero": false}, "axis": null},
"color": {"field": "s", "type": "nominal", "scale": {"domain": ["Mediana(JLA)", "χ²(JLA)", "Mediana(PAN)", "χ²(PAN)"], "range": ["#1e90ff", "#0000ff", "#ff7f50", "#ff4500"]},
"legend": {"orient": "none", "legendX": -72, "legendY": -44, "direction": "horizontal", "title": null,
"encode": {"symbols": {"update": {
"shape": {"signal": "indexof(datum.value,'Mediana')===0 ? 'M-2.67,-1H2.67V1H-2.67Z' : 'M-2.5,0H2.5'"},
"fill": {"signal": "datum.value==='Mediana(JLA)' ? '#1e90ff' : (datum.value==='Mediana(PAN)' ? '#ff7f50' : 'transparent')"}}}}}},
"strokeDash": {"field": "s", "type": "nominal", "scale": {"domain": ["Mediana(JLA)", "χ²(JLA)", "Mediana(PAN)", "χ²(PAN)"], "range": [[1, 0], [4, 2], [1, 0], [4, 2]]},
"legend": {"orient": "none", "legendX": -72, "legendY": -44, "direction": "horizontal", "title": null,
"encode": {"symbols": {"update": {
"shape": {"signal": "indexof(datum.value,'Mediana')===0 ? 'M-2.67,-1H2.67V1H-2.67Z' : 'M-2.5,0H2.5'"},
"fill": {"signal": "datum.value==='Mediana(JLA)' ? '#1e90ff' : (datum.value==='Mediana(PAN)' ? '#ff7f50' : 'transparent')"}}}}}}
},
"layer": [
{"transform": [{"filter": "datum.s==='Mediana(JLA)'"}], "mark": {"type": "line", "interpolate": "monotone", "strokeWidth": 2.6, "clip": true},
"encoding": {"x": {"field": "x", "type": "quantitative", "scale": {"domain": [0.021295, 0.023182], "nice": false, "zero": false}, "axis": {"orient": "bottom", "values": [0.022, 0.0225], "format": ".4f", "tickSize": -5, "labelPadding": 9, "domain": false, "title": "Ω", "titleAlign": "left", "titleBaseline": "alphabetic", "titleX": 100, "titleY": 39.5}}}},
{"transform": [{"filter": "datum.s==='χ²(JLA)'"}], "mark": {"type": "line", "interpolate": "monotone", "strokeWidth": 1.3, "clip": true},
"encoding": {"x": {"field": "x", "type": "quantitative", "scale": {"domain": [0.021295, 0.023182], "nice": false, "zero": false}, "axis": {"orient": "bottom", "labels": false, "ticks": false, "domain": false, "title": "b", "titleFontSize": 12, "titleFontStyle": "italic", "titleAlign": "left", "titleBaseline": "alphabetic", "titleX": 114, "titleY": 42.5}}}},
{"transform": [{"filter": "datum.s==='Mediana(PAN)'"}], "mark": {"type": "line", "interpolate": "monotone", "strokeWidth": 2.6, "clip": true},
"encoding": {"x": {"field": "x", "type": "quantitative", "scale": {"domain": [0.021295, 0.023182], "nice": false, "zero": false}, "axis": {"orient": "bottom", "labels": false, "ticks": false, "domain": false, "title": "h²", "titleFontStyle": "italic", "titleAlign": "left", "titleBaseline": "alphabetic", "titleX": 122.5, "titleY": 39.5}}}},
{"transform": [{"filter": "datum.s==='χ²(PAN)'"}], "mark": {"type": "line", "interpolate": "monotone", "strokeWidth": 1.3, "clip": true},
"encoding": {"x": {"field": "x", "type": "quantitative", "scale": {"domain": [0.021295, 0.023182], "nice": false, "zero": false}, "axis": null}}}
],
"resolve": {"axis": {"x": "independent"}}
}
],
"config": {
"view": {"stroke": "#262626", "strokeWidth": 1.2},
"axis": {"labelFont": "DejaVu Sans", "labelFontSize": 14, "labelColor": "#000000", "labelFlush": false, "titleFont": "DejaVu Sans", "titleFontSize": 16, "titleFontWeight": "normal", "titleColor": "#000000", "tickColor": "#262626", "tickWidth": 1, "grid": false, "domain": false},
"legend": {"labelFont": "DejaVu Sans", "labelFontSize": 16, "labelColor": "#000000", "symbolSize": 144, "symbolStrokeWidth": 1.5, "symbolOffset": 9, "labelOffset": 19, "columnPadding": 34, "padding": 6.5, "strokeColor": "#cccccc", "fillColor": "#ffffff", "cornerRadius": 3},
"text": {"font": "DejaVu Sans"}
}
}
